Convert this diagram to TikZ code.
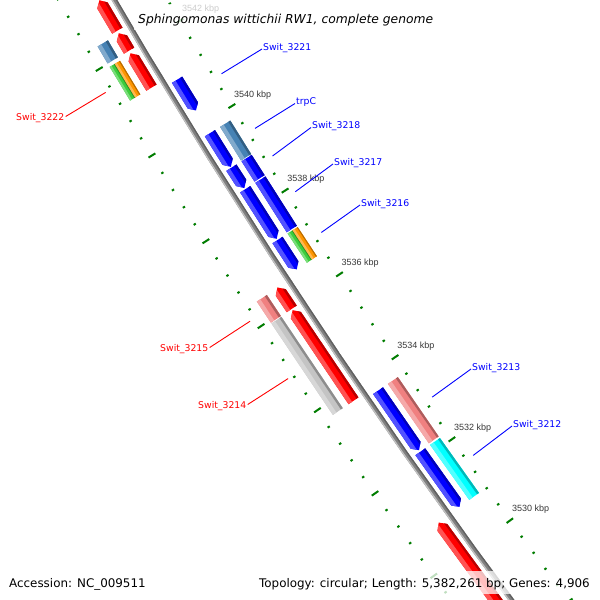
\documentclass[tikz,border=0pt]{standalone}
\usepackage{fontspec}
\setmainfont{DejaVu Sans}
\newfontfamily\tickfont{Liberation Sans}
\definecolor{cgred}{RGB}{255,0,0}
\definecolor{cgblue}{RGB}{0,0,255}
\definecolor{cgsteel}{RGB}{70,130,180}
\definecolor{cgcoral}{RGB}{240,128,128}
\definecolor{cgsilver}{RGB}{196,196,196}
\definecolor{cgcyan}{RGB}{0,255,255}
\definecolor{cggreen}{RGB}{60,205,60}
\definecolor{cgorange}{RGB}{255,150,0}
\definecolor{cgtick}{RGB}{0,125,0}
\definecolor{cgback}{RGB}{128,128,128}
% angle (deg) of a genome position given in kbp
\pgfmathdeclarefunction{kb}{1}{\pgfmathparse{144.013+((#1)-3530)*0.425}}
% feature outlines: start kbp, end kbp, centre radius, half width
\newcommand\fflat[4]{({kb(#1)}:{(#3)-(#4)}) -- ({kb(#1)}:{(#3)+(#4)}) -- ({kb(#2)}:{(#3)+(#4)}) -- ({kb(#2)}:{(#3)-(#4)}) -- cycle}
\newcommand\fup[4]{({kb(#1)}:{(#3)-(#4)}) -- ({kb(#1)}:{(#3)+(#4)}) -- ({kb((#2)-0.12)}:{(#3)+(#4)}) -- ({kb(#2)}:{#3}) -- ({kb((#2)-0.12)}:{(#3)-(#4)}) -- cycle}
\newcommand\fdown[4]{({kb(#1)}:{#3}) -- ({kb((#1)+0.12)}:{(#3)+(#4)}) -- ({kb(#2)}:{(#3)+(#4)}) -- ({kb(#2)}:{(#3)-(#4)}) -- ({kb((#1)+0.12)}:{(#3)-(#4)}) -- cycle}
\newcommand\feature[6]{%
  \fill[#6] #1{#2}{#3}{#4}{#5};
  \begin{scope}
    \clip #1{#2}{#3}{#4}{#5};
    \fill[#6!68!white] \fflat{(#2)-0.3}{(#3)+0.3}{(#4)+0.65*(#5)+0.5}{0.35*(#5)+0.5};
    \fill[#6!72!black] \fflat{(#2)-0.3}{(#3)+0.3}{(#4)-0.8*(#5)-0.5}{0.2*(#5)+0.5};
  \end{scope}}
\begin{document}
\begin{tikzpicture}[x=1pt,y=-1pt,
  majortick/.style={cgtick, line width=2pt},
  minortick/.style={cgtick, line width=2pt},
  ticklbl/.style={anchor=base west, inner sep=0pt, text=black!78, font=\tickfont\fontsize{9}{10}\selectfont},
  bluelbl/.style={anchor=base west, inner sep=0pt, text=cgblue, font=\fontsize{9.3}{11}\selectfont},
  redlbl/.style={anchor=base east, inner sep=0pt, text=cgred, font=\fontsize{9.3}{11}\selectfont},
  bluelink/.style={cgblue, line width=0.9pt},
  redlink/.style={cgred, line width=0.9pt},
  veil/.style={white, fill opacity=0.75},
  infotext/.style={inner sep=0pt, font=\fontsize{11.9}{14}\selectfont}]
\useasboundingbox (0,0) rectangle (600,600);
\fill[white] (0,0) rectangle (600,600);
\begin{scope}
\clip (0,0) rectangle (600,600);
\begin{scope}[shift={(5957,-3435)}]
  % ruler rings
  \foreach \i in {0,...,43}{
    \pgfmathsetmacro\kk{3527.2+0.4*\i}
    \pgfmathsetmacro\ang{kb(\kk)}
    \pgfmathtruncatemacro\mm{mod(\i+3,5)}
    \ifnum\mm=0
      \draw[majortick] (\ang:6822) -- (\ang:6830);
      \draw[majortick] (\ang:6728) -- (\ang:6736);
    \else
      \draw[minortick] (\ang:6825) -- (\ang:6827.5);
      \draw[minortick] (\ang:6730.8) -- (\ang:6733.3);
    \fi
  }
  % backbone
  \fill[cgback] plot[domain=142.8:150.6,samples=40] (\x:6780.5) -- plot[domain=150.6:142.8,samples=40] (\x:6775.5) -- cycle;
  \fill[cgback!50!white] plot[domain=142.8:150.6,samples=40] (\x:6780.5) -- plot[domain=150.6:142.8,samples=40] (\x:6779.2) -- cycle;
  \fill[cgback!75!black] plot[domain=142.8:150.6,samples=40] (\x:6776.8) -- plot[domain=150.6:142.8,samples=40] (\x:6775.5) -- cycle;
  % outer slot 1: forward CDS
  \feature{\fup}{3542.47}{3543.17}{6791}{6}{cgred}
  \feature{\fup}{3542.01}{3542.41}{6791}{6}{cgred}
  \feature{\fup}{3541.15}{3541.95}{6791}{6}{cgred}
  \feature{\fup}{3535.95}{3536.46}{6791}{6}{cgred}
  \feature{\fup}{3533.75}{3535.92}{6791}{6}{cgred}
  \feature{\fup}{3528.20}{3530.80}{6791}{6}{cgred}
  % outer slot 2: categories
  \feature{\fflat}{3542.01}{3542.40}{6810}{6}{cgsteel}
  \feature{\fflat}{3541.15}{3541.93}{6813}{3}{cggreen}
  \feature{\fflat}{3541.15}{3541.93}{6807}{3}{cgorange}
  \feature{\fflat}{3535.95}{3536.45}{6810}{6}{cgcoral}
  \feature{\fflat}{3533.75}{3535.93}{6810}{6}{cgsilver}
  % inner slot 1: reverse CDS
  \feature{\fdown}{3540.30}{3541.02}{6765}{6}{cgblue}
  \feature{\fdown}{3538.98}{3539.77}{6765}{6}{cgblue}
  \feature{\fdown}{3538.48}{3538.96}{6765}{6}{cgblue}
  \feature{\fdown}{3537.28}{3538.45}{6765}{6}{cgblue}
  \feature{\fdown}{3536.55}{3537.25}{6765}{6}{cgblue}
  \feature{\fdown}{3532.20}{3533.64}{6765}{6}{cgblue}
  \feature{\fdown}{3530.81}{3532.16}{6765}{6}{cgblue}
  % inner slot 2: categories
  \feature{\fflat}{3538.98}{3539.77}{6747}{6}{cgsteel}
  \feature{\fflat}{3538.48}{3538.96}{6747}{6}{cgblue}
  \feature{\fflat}{3537.28}{3538.45}{6747}{6}{cgblue}
  \feature{\fflat}{3536.55}{3537.25}{6750}{3}{cggreen}
  \feature{\fflat}{3536.55}{3537.25}{6744}{3}{cgorange}
  \feature{\fflat}{3532.20}{3533.64}{6747}{6}{cgcoral}
  \feature{\fflat}{3530.81}{3532.16}{6747}{6}{cgcyan}
  % label anchors on the features
  \coordinate (p3221) at ({kb(3540.66)}:6724);
  \coordinate (ptrpC) at ({kb(3539.375)}:6724);
  \coordinate (p3218) at ({kb(3538.72)}:6724);
  \coordinate (p3217) at ({kb(3537.87)}:6724);
  \coordinate (p3216) at ({kb(3536.90)}:6724);
  \coordinate (p3213) at ({kb(3532.92)}:6724);
  \coordinate (p3212) at ({kb(3531.49)}:6724);
  \coordinate (p3222) at ({kb(3541.54)}:6832.5);
  \coordinate (p3215) at ({kb(3536.20)}:6832.5);
  \coordinate (p3214) at ({kb(3534.84)}:6832.5);
  % ruler labels
  \foreach \kk in {3530,3532,...,3542}{
    \pgfmathsetmacro\ang{kb(\kk)}
    \node[ticklbl] (t\kk) at ([xshift=2pt,yshift=8.8pt]\ang:6732) {\kk\ kbp};
  }
\end{scope}
% feature labels
\node[bluelbl] (n3221) at (263,50) {Swit\_3221};
\node[bluelbl] (ntrpC) at (296,104.5) {trpC};
\node[bluelbl] (n3218) at (312,128.5) {Swit\_3218};
\node[bluelbl] (n3217) at (334,165) {Swit\_3217};
\node[bluelbl] (n3216) at (361,206) {Swit\_3216};
\node[bluelbl] (n3213) at (472,370) {Swit\_3213};
\node[bluelbl] (n3212) at (513,427) {Swit\_3212};
\node[redlbl] (n3222) at (64.5,120.5) {Swit\_3222};
\node[redlbl] (n3215) at (208.5,351.5) {Swit\_3215};
\node[redlbl] (n3214) at (246.5,408.5) {Swit\_3214};
\foreach \n in {3221,trpC,3218,3217,3216,3213,3212}{
  \draw[bluelink] (p\n) -- ([xshift=-1pt,yshift=1pt]n\n.base west);
}
\foreach \n in {3222,3215,3214}{
  \draw[redlink] (p\n) -- ([xshift=1.2pt,yshift=4pt]n\n.base east);
}
% title and footer
\fill[veil] (134,4) rectangle (439,30);
\fill[veil] (256,571) rectangle (594,594);
\node[anchor=base west, inner sep=0pt, font=\fontsize{12.3}{14}\selectfont\itshape] (title) at (138,23) {Sphingomonas wittichii RW1, complete genome};
\node[infotext, anchor=base west] (acc) at (9,587) {Accession: NC\_009511};
\node[infotext, anchor=base east] (topo) at (590,587) {Topology: circular; Length: 5,382,261 bp; Genes: 4,906};
\end{scope}
\end{tikzpicture}
\end{document}
